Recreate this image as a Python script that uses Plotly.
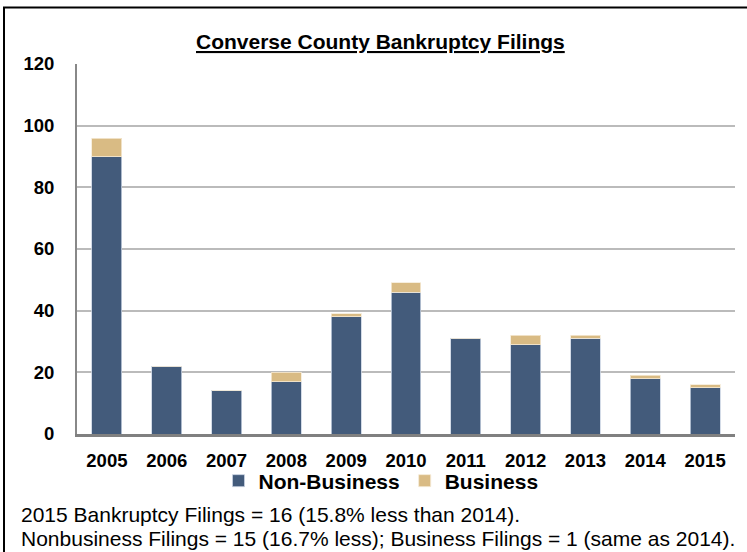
import plotly.graph_objects as go

years = ["2005", "2006", "2007", "2008", "2009", "2010", "2011", "2012", "2013", "2014", "2015"]
non_business = [90, 22, 14, 17, 38, 46, 31, 29, 31, 18, 15]
business = [6, 0, 0, 3, 1, 3, 0, 3, 1, 1, 1]
y_ticks = [0, 20, 40, 60, 80, 100, 120]

title_text = "Converse County Bankruptcy Filings"
note_line1 = "2015 Bankruptcy Filings = 16 (15.8% less than 2014)."
note_line2 = "Nonbusiness Filings = 15 (16.7% less); Business Filings = 1 (same as 2014)."

FONT = "Liberation Sans, Arial, sans-serif"
NAVY = "#435B7B"
TAN = "#D9BB84"

W, H = 747, 552
L, R, T, B = 77, 12, 64, 118
pw = W - L - R
ph = H - T - B

def px_x(x):
    return (x - L) / pw

def px_y(y):
    return (H - B - y) / ph

fig = go.Figure()
fig.add_trace(go.Bar(
    x=years, y=non_business, name="Non-Business",
    marker=dict(color=NAVY, line=dict(color="rgba(200,210,225,0.8)", width=1)),
    width=0.5,
))
fig.add_trace(go.Bar(
    x=years, y=business, name="Business",
    marker=dict(color=TAN, line=dict(color="rgba(245,235,215,0.8)", width=1)),
    width=0.5,
))

fig.update_layout(
    barmode="stack",
    width=W, height=H,
    margin=dict(l=L, r=R, t=T, b=B, autoexpand=False),
    paper_bgcolor="white",
    plot_bgcolor="white",
    font=dict(family=FONT, color="black"),
    showlegend=True,
    legend=dict(
        orientation="h",
        traceorder="normal",
        x=px_x(381), xanchor="center",
        y=px_y(481), yanchor="middle",
        font=dict(size=21, family=FONT, color="black", weight="bold"),
        itemwidth=30,
        tracegroupgap=0,
        bgcolor="rgba(0,0,0,0)",
    ),
    xaxis=dict(
        type="category",
        showgrid=False,
        showline=True, linecolor="#808080", linewidth=3,
        ticks="",
        tickfont=dict(size=18.5, family=FONT, color="black", weight="bold"),
        ticklabelstandoff=8,
        fixedrange=True,
    ),
    yaxis=dict(
        range=[0, 120],
        tickvals=y_ticks,
        ticktext=[str(v) for v in y_ticks],
        showgrid=True, gridcolor="#BBBBBB", gridwidth=1.5,
        showline=True, linecolor="#888888", linewidth=2,
        zeroline=False,
        ticks="",
        tickfont=dict(size=18.5, family=FONT, color="black", weight="bold"),
        ticklabelstandoff=17,
        fixedrange=True,
    ),
    annotations=[
        dict(text="<b><u>" + title_text + "</u></b>", xref="paper", yref="paper",
             x=px_x(380), y=px_y(42), xanchor="center", yanchor="middle",
             showarrow=False, font=dict(size=21, family=FONT, color="black")),
        dict(text=note_line1, xref="paper", yref="paper",
             x=px_x(19), y=px_y(514), xanchor="left", yanchor="middle",
             showarrow=False, font=dict(size=21, family=FONT, color="black")),
        dict(text=note_line2, xref="paper", yref="paper",
             x=px_x(19), y=px_y(538), xanchor="left", yanchor="middle",
             showarrow=False, font=dict(size=21, family=FONT, color="black")),
    ],
    shapes=[
        dict(type="line", xref="paper", yref="paper",
             x0=px_x(4), x1=px_x(4), y0=px_y(7), y1=px_y(560),
             line=dict(color="black", width=2)),
        dict(type="line", xref="paper", yref="paper",
             x0=px_x(3), x1=px_x(750), y0=px_y(7.5), y1=px_y(7.5),
             line=dict(color="black", width=2)),
    ],
)

fig.write_html(
    "out.html",
    config={"displayModeBar": False},
    post_script="document.body.style.margin='0';document.body.style.overflow='hidden';",
)
